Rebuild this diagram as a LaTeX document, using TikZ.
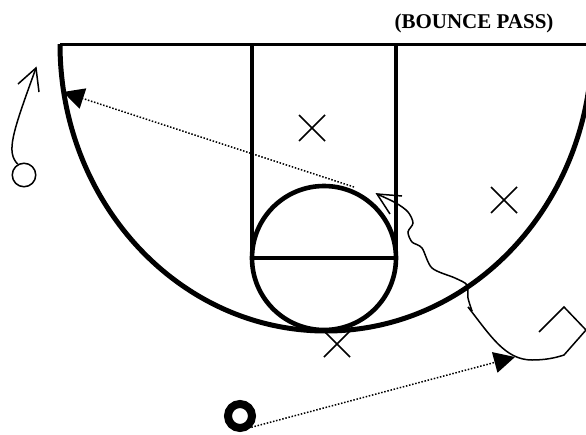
\documentclass[tikz,border=0pt]{standalone}
\usepackage{fontspec}
\setmainfont{Liberation Serif}
\usetikzlibrary{arrows.meta, shapes.misc}

\begin{document}
\begin{tikzpicture}[
    x=1pt,
    y=-1pt,
    court/.style={draw=black, line width=4.6pt},
    rival/.style={draw=black, cross out, line width=1.6pt, minimum size=26pt, inner sep=0pt, outer sep=0pt},
    runner/.style={draw=black, circle, line width=1.5pt, minimum size=23.5pt, inner sep=0pt},
    passer/.style={draw=black, circle, line width=8pt, minimum size=24pt, inner sep=0pt},
    pass/.style={line width=1.5pt, dash pattern=on 1.5pt off 1.7pt, -{Triangle[length=21pt, width=21pt]}},
    cut/.style={draw=black, line width=1.5pt, line join=miter}
]
\useasboundingbox (0,0) rectangle (586,434);
\node[font=\fontsize{21}{24}\selectfont\bfseries, inner sep=0pt] (title) at (474,23) {(BOUNCE PASS)};
% court
\coordinate (baseleft) at (60,44);
\coordinate (baseright) at (586,44);
\draw[court, line width=3pt] (baseleft) -- (baseright);
\begin{scope}
\clip (0,0) rectangle (586,434);
\draw[court, line width=5pt] (baseleft) arc[start angle=180, end angle=360, x radius=266, y radius=-287];
\end{scope}
\draw[court] (252,44) -- (252,258) -- (396,258) -- (396,44);
\draw[court] (324,258) circle[radius=72];
% players
\node[rival] (rivaltop) at (312,128) {};
\node[rival] (rivalright) at (504,200) {};
\node[rival] (rivalbottom) at (337,344) {};
\node[runner] (wing) at (24,175) {};
\node[passer] (ball) at (240,416) {};
% passes
\coordinate (passstart) at (354,187);
\coordinate (passend) at (63,92);
\coordinate (receive) at (515,357);
\draw[pass] (passstart) -- (passend);
\draw[pass] (ball.-45) -- (receive);
% cuts
\draw[cut] (wing.120) .. controls (6,152) and (12,134) .. (36,68);
\draw[cut] (18,84) -- (36,68) -- (39,92);
\draw[cut] (402,196) -- (377,194) -- (390,214);
\draw[cut] plot[smooth, tension=0.5] coordinates {(377,194) (396,203) (408,212) (413,223) (408,232) (412,242) (422,248) (432,268) (455,278) (467,285) (468,298) (472,311)};
\draw[cut] (472,311) -- (468,307) .. controls (490,335) and (505,360) .. (532,360) .. controls (545,360) and (555,358) .. (564,355) -- (586,330) -- (564,307) -- (539,332);
\end{tikzpicture}
\end{document}
